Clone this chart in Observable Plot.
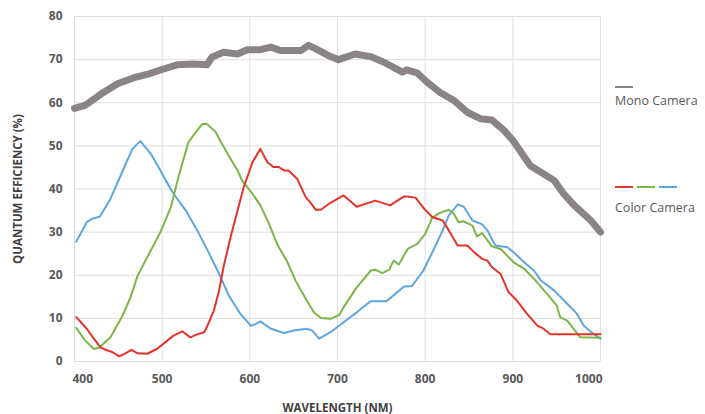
<!DOCTYPE html>
<html><head><meta charset="utf-8">
<script src="https://cdn.jsdelivr.net/npm/d3@7"></script>
<script src="https://cdn.jsdelivr.net/npm/@observablehq/plot@0.6"></script>
<style>
body{margin:0;background:#fff;font-family:"Open Sans",sans-serif;}
#wrap{position:relative;width:705px;height:414px;}
.leg{position:absolute;left:615px;font-size:12.5px;color:#595959;white-space:nowrap;}
.sw{position:absolute;height:2px;width:18px;}
g[aria-label="x-axis label"] text, g[aria-label="y-axis label"] text{font-size:11.5px;font-weight:bold;fill:#404040;}
</style></head><body><div id="wrap"></div>
<script>
const xTicks = [400, 500, 600, 700, 800, 900, 1000];
const yTicks = [0, 10, 20, 30, 40, 50, 60, 70, 80];

const monoWl = [400,412,433,449,468,485,498,517,536,551,557,570,586,597,612,624,635,658,667,677,692,701,720,738,753,774,779,791,802,817,833,848,863,876,890,901,920,932,947,958,970,989,1000];
const monoQe = [58.7,59.4,62.4,64.4,65.8,66.7,67.6,68.8,69.0,68.8,70.6,71.7,71.3,72.3,72.3,72.9,72.1,72.1,73.3,72.3,70.7,70.0,71.3,70.7,69.4,67.1,67.6,66.9,64.8,62.4,60.5,57.8,56.3,56.0,53.6,51.0,45.4,43.9,42.0,38.9,36.2,32.7,30.0];

const blueWl = [402,414,420,429,441,456,466,475,487,498,504,513,527,540,553,565,576,589,601,606,612,624,639,650,665,671,679,692,707,722,738,756,776,785,798,810,820,827,837,844,854,865,871,880,894,901,913,924,932,947,962,973,981,992,1000];
const blueQe = [27.8,32.3,33.1,33.6,37.7,44.7,49.3,51.1,48.2,44.3,42.0,38.9,35.0,30.4,25.3,20.3,15.3,11.1,8.3,8.6,9.3,7.6,6.6,7.2,7.6,7.2,5.3,6.8,9.1,11.4,14.0,14.0,17.4,17.5,21.1,26.1,30.4,33.9,36.4,35.9,32.7,31.8,30.4,26.9,26.5,25.3,23.0,21.1,18.8,16.5,13.4,11.1,8.3,6.4,5.3];

const greenWl = [402,412,422,428,441,454,464,472,483,498,510,519,530,540,546,551,561,567,578,586,591,603,612,622,631,643,652,664,673,681,692,702,707,722,738,743,751,759,764,770,780,791,800,808,816,827,833,838,844,854,859,865,876,886,901,913,924,939,950,954,962,977,1000];
const greenQe = [7.8,4.9,2.9,3.2,5.6,10.3,14.9,19.9,24.2,30.0,35.8,43.1,50.9,53.6,55.1,55.1,53.2,50.9,47.0,44.3,42.0,38.9,36.2,31.9,27.3,23.0,18.8,14.5,11.4,10.1,9.9,10.8,12.6,17.2,21.1,21.3,20.5,21.3,23.4,22.5,26.1,27.3,29.6,33.3,34.4,35.2,34.2,32.3,32.5,31.5,29.0,29.8,26.7,26.1,23.0,21.5,19.2,15.7,13.0,10.3,9.5,5.6,5.5];

const redWl = [402,414,422,430,437,443,451,458,465,472,483,494,513,523,532,540,548,551,559,565,570,578,586,593,603,612,620,627,633,639,644,654,664,669,675,681,692,707,722,743,760,776,789,799,808,820,827,837,848,856,865,871,876,886,895,903,916,928,935,943,1000];
const redQe = [10.3,7.6,5.3,3.2,2.6,2.2,1.2,1.9,2.7,1.9,1.8,2.9,6.0,7.0,5.6,6.3,6.8,8.0,11.8,16.5,21.9,28.8,35.0,40.4,46.2,49.3,46.2,45.1,45.1,44.3,44.3,42.4,38.0,36.9,35.2,35.2,36.8,38.5,35.9,37.3,36.2,38.3,38.0,35.4,33.5,32.7,30.4,26.9,26.9,25.3,23.8,23.4,21.9,20.3,16.1,14.5,11.1,8.3,7.6,6.3,6.3];

const legendLabels = ["Mono Camera", "Color Camera"];
const colors = {mono: "#8a8484", red: "#e5332a", green: "#7ab648", blue: "#5fa6de"};

const rows = (wl, qe) => wl.map((w, i) => ({w, q: qe[i]}));
const fmt = d => String(d);

const chart = Plot.plot({
  width: 705, height: 414,
  marginLeft: 74, marginRight: 105, marginTop: 16, marginBottom: 53,
  x: {domain: [400, 1000]},
  y: {domain: [0, 80]},
  style: {fontFamily: "'Open Sans', sans-serif", fontSize: "12px", color: "#595959", background: "transparent", overflow: "visible"},
  marks: [
    Plot.gridX(xTicks, {stroke: "#dedede", strokeOpacity: 1}),
    Plot.gridY(yTicks, {stroke: "#dedede", strokeOpacity: 1}),
    Plot.axisY(yTicks, {tickSize: 0, tickPadding: 12, fontWeight: "bold", tickFormat: fmt, label: "QUANTUM EFFICIENCY (%)", labelAnchor: "center", labelArrow: "none", labelOffset: 61}),
    Plot.axisX(xTicks.slice(1, -1), {tickSize: 0, tickPadding: 13, fontWeight: "bold", tickFormat: fmt, label: "WAVELENGTH (NM)", labelAnchor: "center", labelArrow: "none", labelOffset: 50}),
    Plot.axisX(xTicks.slice(0, 1), {tickSize: 0, tickPadding: 13, fontWeight: "bold", tickFormat: fmt, textAnchor: "start", dx: -2, label: null}),
    Plot.axisX(xTicks.slice(-1), {tickSize: 0, tickPadding: 13, fontWeight: "bold", tickFormat: fmt, textAnchor: "end", dx: 2, label: null}),
    Plot.line(rows(monoWl, monoQe), {x: "w", y: "q", stroke: colors.mono, strokeWidth: 7, strokeLinejoin: "round", strokeLinecap: "round"}),
    Plot.line(rows(blueWl, blueQe), {x: "w", y: "q", stroke: colors.blue, strokeWidth: 2}),
    Plot.line(rows(greenWl, greenQe), {x: "w", y: "q", stroke: colors.green, strokeWidth: 2}),
    Plot.line(rows(redWl, redQe), {x: "w", y: "q", stroke: colors.red, strokeWidth: 2})
  ]
});
const wrap = document.getElementById("wrap");
wrap.appendChild(chart);

function addSwatch(left, top, color) {
  const s = document.createElement("div");
  s.className = "sw";
  s.style.left = left + "px"; s.style.top = top + "px"; s.style.background = color;
  wrap.appendChild(s);
}
function addText(top, txt) {
  const t = document.createElement("div");
  t.className = "leg";
  t.style.top = top + "px";
  t.textContent = txt;
  wrap.appendChild(t);
}
addSwatch(615, 86, colors.mono);
addText(92, legendLabels[0]);
addSwatch(615, 186, colors.red);
addSwatch(637, 186, colors.green);
addSwatch(659, 186, colors.blue);
addText(199, legendLabels[1]);
</script></body></html>
